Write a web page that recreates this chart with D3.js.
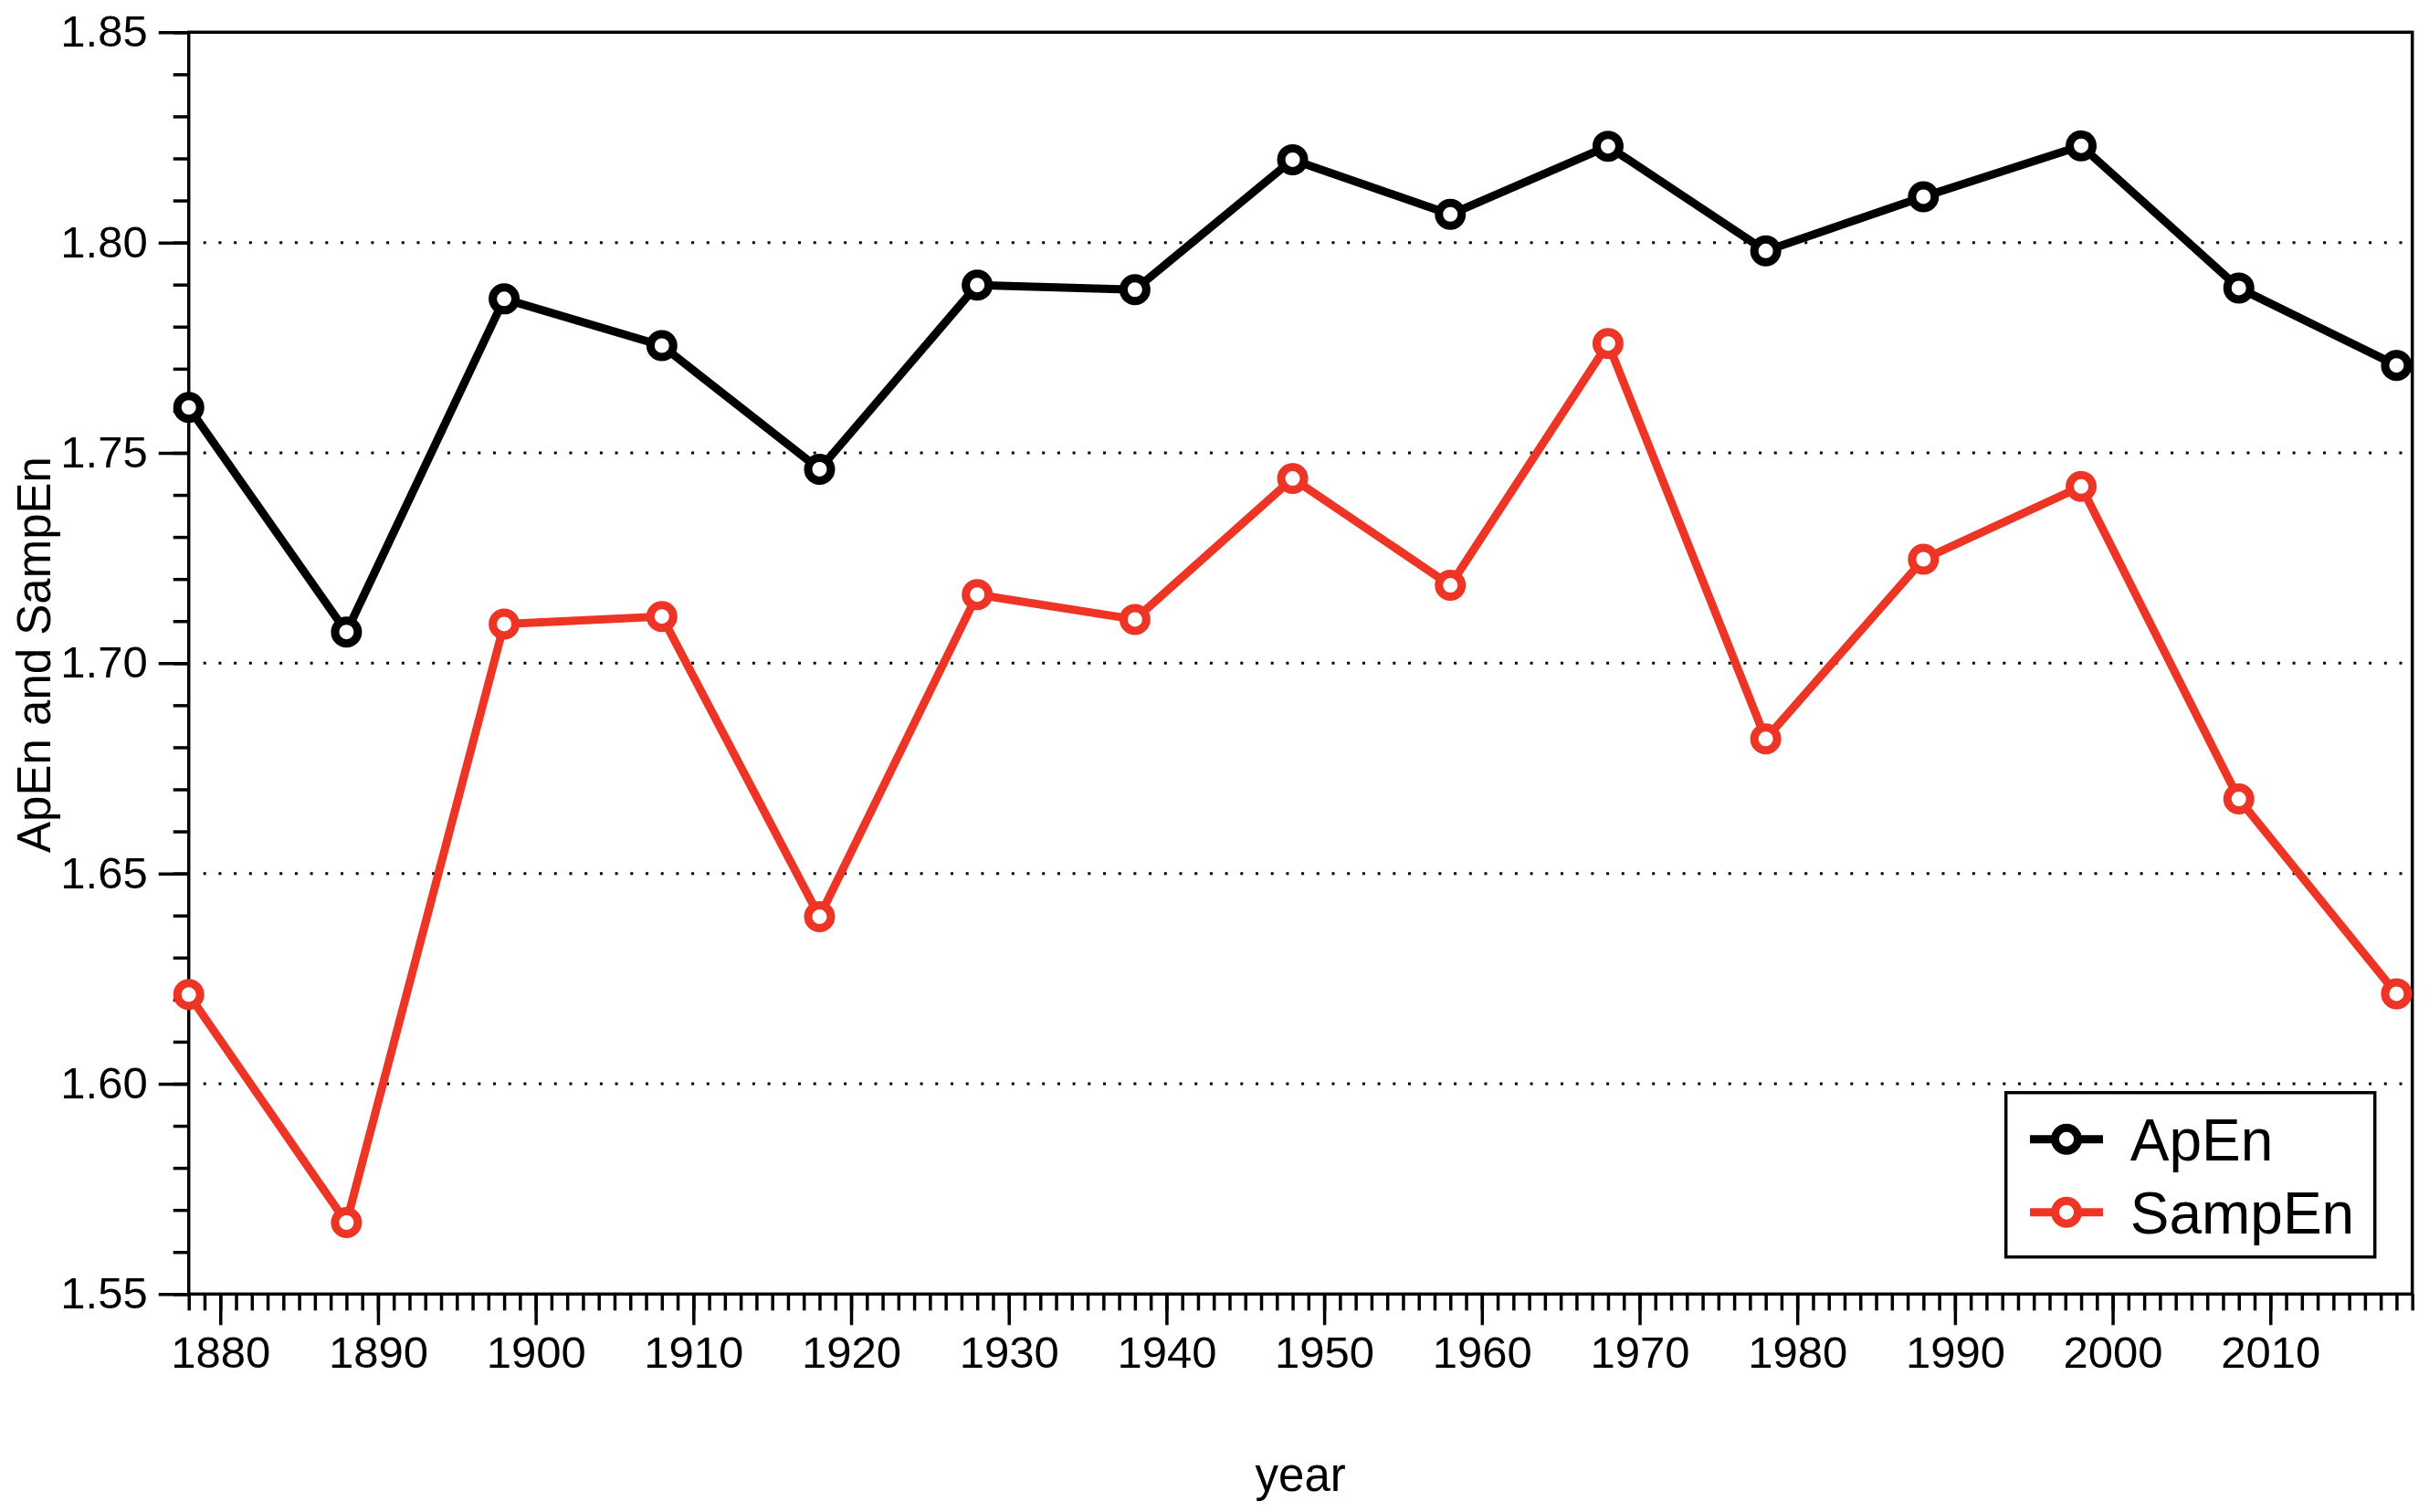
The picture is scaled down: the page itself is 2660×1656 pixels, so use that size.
<!DOCTYPE html>
<html>
<head>
<meta charset="utf-8">
<script src="https://cdn.jsdelivr.net/npm/d3@7"></script>
<style>
  html, body { margin: 0; padding: 0; background: #fff; }
  svg { display: block; }
  text { font-family: "Liberation Sans", Arial, Helvetica, sans-serif; fill: #000; }
</style>
</head>
<body>
<script>
// ---- data ----
const years = [1878, 1888, 1898, 1908, 1918, 1928, 1938, 1948, 1958, 1968, 1978, 1988, 1998, 2008, 2018];
const apEn  = [1.7608, 1.7074, 1.7866, 1.7755, 1.7461, 1.7899, 1.7888, 1.8197, 1.8067, 1.8229, 1.7980, 1.8109, 1.8230, 1.7892, 1.7708];
const sampEn = [1.6212, 1.5670, 1.7093, 1.7111, 1.6397, 1.7163, 1.7104, 1.7439, 1.7185, 1.7760, 1.6820, 1.7247, 1.7420, 1.6677, 1.6214];
const seriesNames = ["ApEn", "SampEn"];
const seriesColors = ["#000000", "#ee3424"];
const xTickLabels = [1880, 1890, 1900, 1910, 1920, 1930, 1940, 1950, 1960, 1970, 1980, 1990, 2000, 2010];
const yTickLabels = [1.55, 1.60, 1.65, 1.70, 1.75, 1.80, 1.85];
const xLabel = "year";
const yLabel = "ApEn and SampEn";

// ---- layout ----
const W = 2660, H = 1656;
const margin = { left: 206.7, right: 18.3, top: 35.3, bottom: 238.7 };
const iw = W - margin.left - margin.right;
const ih = H - margin.top - margin.bottom;

const svg = d3.select("body").append("svg").attr("width", W).attr("height", H);
const g = svg.append("g").attr("transform", `translate(${margin.left},${margin.top})`);

const x = d3.scaleLinear().domain([1878, 2019]).range([0, iw]);
const y = d3.scaleLinear().domain([1.55, 1.85]).range([ih, 0]);

const fontSize = 49;
const titleSize = 51;

// grid (dotted)
g.append("g").selectAll("line")
  .data(yTickLabels.filter(v => v > 1.551 && v < 1.849))
  .join("line")
  .attr("x1", 16).attr("x2", iw)
  .attr("y1", d => y(d)).attr("y2", d => y(d))
  .attr("stroke", "#000").attr("stroke-width", 3)
  .attr("stroke-dasharray", "3 13.7");

// x minor ticks
const minorYears = d3.range(1878, 2020, 1);
const xMinor = g.append("g").attr("transform", `translate(0,${ih})`)
  .call(d3.axisBottom(x).tickValues(minorYears).tickSize(18).tickFormat(""));
xMinor.select(".domain").remove();
xMinor.selectAll("line").attr("stroke-width", 3.5);

// x major ticks
const xMajor = g.append("g").attr("transform", `translate(0,${ih})`)
  .call(d3.axisBottom(x).tickValues(xTickLabels).tickSize(34).tickPadding(12).tickFormat(d3.format("d")));
xMajor.select(".domain").remove();
xMajor.selectAll("line").attr("stroke-width", 3.5);
xMajor.selectAll("text").attr("font-size", fontSize).attr("font-family", "Liberation Sans, Arial, sans-serif");

// y minor ticks
const minorY = d3.range(0, 31).map(i => +(1.55 + i * 0.01).toFixed(2));
const yMinor = g.append("g")
  .call(d3.axisLeft(y).tickValues(minorY).tickSize(17).tickFormat(""));
yMinor.select(".domain").remove();
yMinor.selectAll("line").attr("stroke-width", 3.5);

// y major ticks
const yMajor = g.append("g")
  .call(d3.axisLeft(y).tickValues(yTickLabels).tickSize(33).tickPadding(12).tickFormat(d3.format(".2f")));
yMajor.select(".domain").remove();
yMajor.selectAll("line").attr("stroke-width", 3.5);
yMajor.selectAll("text").attr("font-size", fontSize).attr("font-family", "Liberation Sans, Arial, sans-serif");

// frame
g.append("rect").attr("x", 0).attr("y", 0).attr("width", iw).attr("height", ih)
  .attr("fill", "none").attr("stroke", "#000").attr("stroke-width", 3.5);

// series
const allSeries = [apEn, sampEn];
const line = d3.line().x((d, i) => x(years[i])).y(d => y(d));
allSeries.forEach((vals, si) => {
  const sg = g.append("g");
  sg.append("path").datum(vals)
    .attr("d", line)
    .attr("fill", "none").attr("stroke", seriesColors[si])
    .attr("stroke-width", 9).attr("stroke-linejoin", "round");
  sg.selectAll("circle").data(vals).join("circle")
    .attr("cx", (d, i) => x(years[i])).attr("cy", d => y(d))
    .attr("r", 12.5).attr("fill", "#fff")
    .attr("stroke", seriesColors[si]).attr("stroke-width", 9);
});

// axis titles
svg.append("text").attr("x", margin.left + iw / 2).attr("y", 1633)
  .attr("text-anchor", "middle").attr("font-size", titleSize).text(xLabel);
svg.append("text").attr("transform", `translate(55,717) rotate(-90)`)
  .attr("text-anchor", "middle").attr("font-size", titleSize).text(yLabel);

// legend
const lg = svg.append("g");
lg.append("rect").attr("x", 2196.7).attr("y", 1196.7).attr("width", 404).attr("height", 180)
  .attr("fill", "#fff").attr("stroke", "#000").attr("stroke-width", 3.5);
seriesNames.forEach((name, i) => {
  const ry = 1247.7 + i * 80;
  lg.append("line").attr("x1", 2223).attr("x2", 2303).attr("y1", ry).attr("y2", ry)
    .attr("stroke", seriesColors[i]).attr("stroke-width", 9);
  lg.append("circle").attr("cx", 2263).attr("cy", ry).attr("r", 12.5)
    .attr("fill", "#fff").attr("stroke", seriesColors[i]).attr("stroke-width", 9);
  lg.append("text").attr("x", 2332.7).attr("y", ry + 23).attr("font-size", 64).text(name);
});
</script>
</body>
</html>
